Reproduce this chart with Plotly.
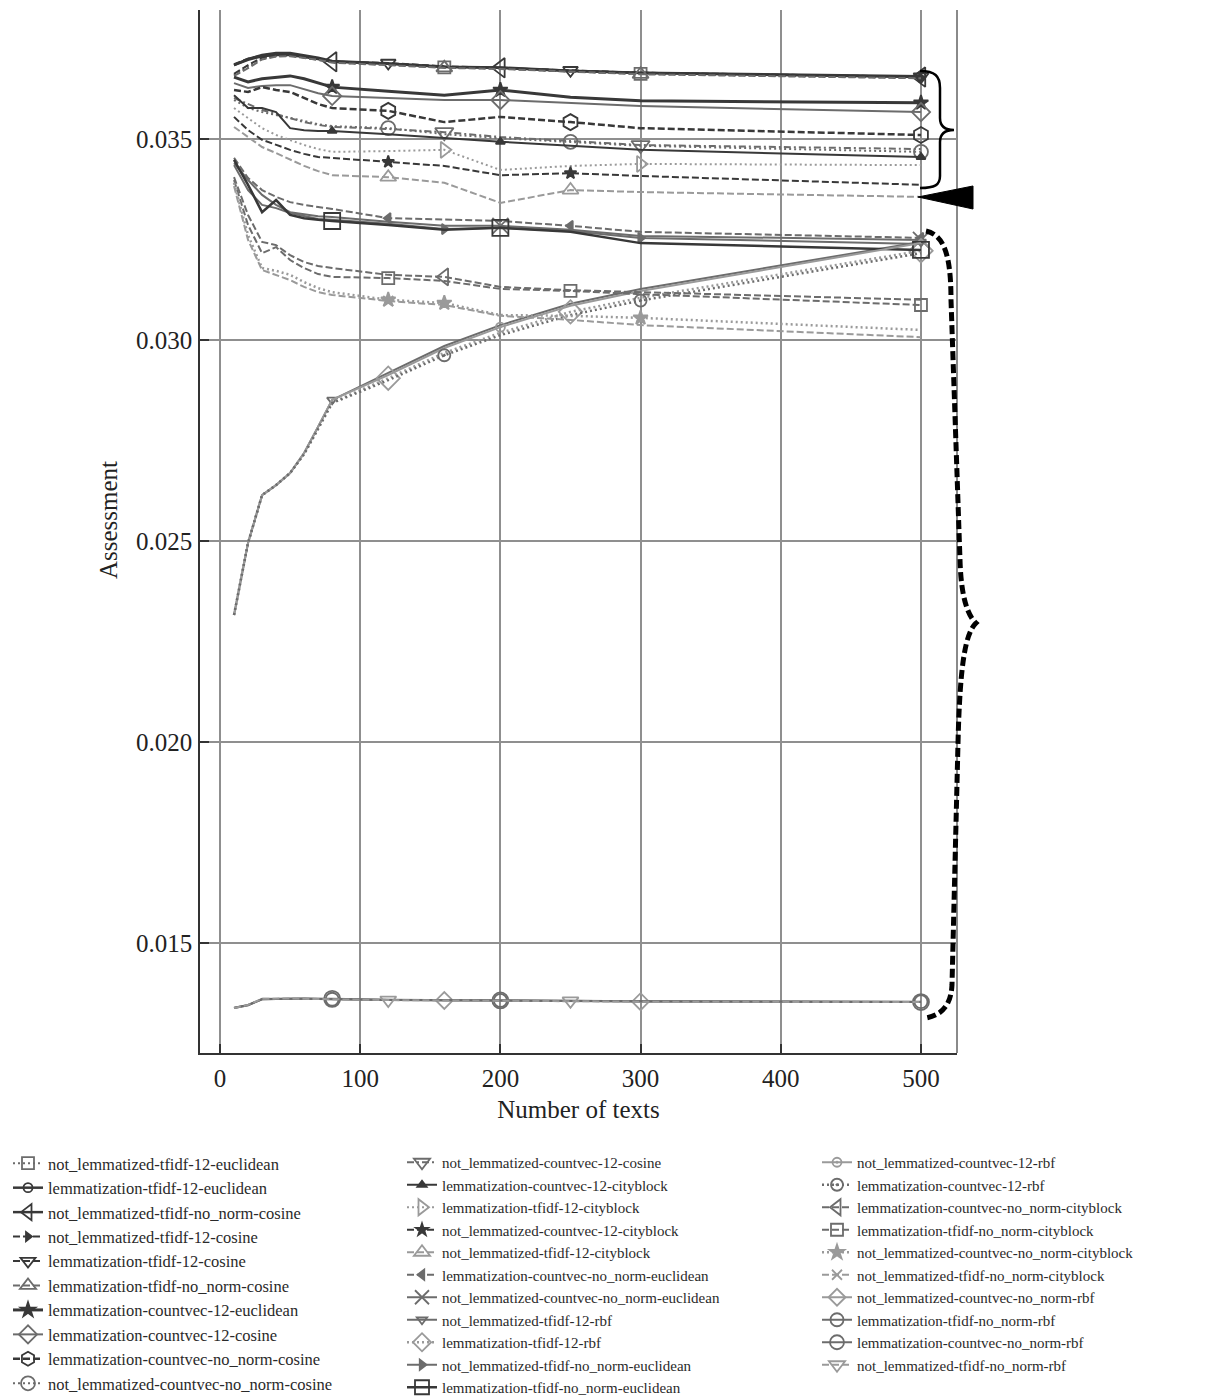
import plotly.graph_objects as go

# ---------------- data ----------------
X_TEXTS = [10, 20, 30, 40, 50, 60, 70, 80, 120, 160, 200, 250, 300, 500]
X_TICKS = [0, 100, 200, 300, 400, 500]
Y_TICKS = [0.015, 0.020, 0.025, 0.030, 0.035]

# column 1 of legend
nl_tfidf_l2_euclidean = [0.03659, 0.03680, 0.03700, 0.03706, 0.03707, 0.03703, 0.03698, 0.03690, 0.03685, 0.03678, 0.03675, 0.03668, 0.03662, 0.03652]
lm_tfidf_l2_euclidean = [0.03684, 0.03699, 0.03709, 0.03714, 0.03714, 0.03708, 0.03702, 0.03694, 0.03688, 0.03680, 0.03678, 0.03670, 0.03665, 0.03656]
nl_tfidf_nonorm_cosine = [0.03684, 0.03697, 0.03706, 0.03709, 0.03709, 0.03704, 0.03699, 0.03692, 0.03687, 0.03679, 0.03677, 0.03669, 0.03664, 0.03654]
nl_tfidf_l2_cosine = [0.03662, 0.03684, 0.03702, 0.03707, 0.03708, 0.03703, 0.03697, 0.03691, 0.03686, 0.03678, 0.03676, 0.03668, 0.03663, 0.03653]
lm_tfidf_l2_cosine = [0.03686, 0.03700, 0.03708, 0.03712, 0.03711, 0.03706, 0.03700, 0.03693, 0.03689, 0.03681, 0.03677, 0.03671, 0.03665, 0.03655]
lm_tfidf_nonorm_cosine = [0.03657, 0.03676, 0.03698, 0.03705, 0.03706, 0.03702, 0.03697, 0.03690, 0.03684, 0.03677, 0.03674, 0.03667, 0.03661, 0.03651]
lm_countvec_l2_euclidean = [0.03654, 0.03642, 0.03650, 0.03654, 0.03657, 0.03650, 0.03639, 0.03629, 0.03619, 0.03609, 0.03622, 0.03604, 0.03595, 0.03590]
lm_countvec_l2_cosine = [0.03639, 0.03627, 0.03632, 0.03634, 0.03634, 0.03624, 0.03614, 0.03607, 0.03602, 0.03597, 0.03597, 0.03590, 0.03582, 0.03567]
lm_countvec_nonorm_cosine = [0.03622, 0.03617, 0.03629, 0.03622, 0.03617, 0.03602, 0.03587, 0.03577, 0.03570, 0.03542, 0.03555, 0.03542, 0.03527, 0.03510]
nl_countvec_nonorm_cosine = [0.03597, 0.03577, 0.03567, 0.03560, 0.03552, 0.03545, 0.03537, 0.03532, 0.03527, 0.03512, 0.03502, 0.03493, 0.03483, 0.03468]
# column 2 of legend
nl_countvec_l2_cosine = [0.03602, 0.03587, 0.03572, 0.03562, 0.03552, 0.03542, 0.03535, 0.03530, 0.03525, 0.03517, 0.03505, 0.03495, 0.03485, 0.03475]
lm_countvec_l2_cityblock = [0.03609, 0.03577, 0.03577, 0.03567, 0.03527, 0.03522, 0.03520, 0.03520, 0.03512, 0.03502, 0.03493, 0.03483, 0.03473, 0.03455]
lm_tfidf_l2_cityblock = [0.03577, 0.03552, 0.03527, 0.03510, 0.03498, 0.03485, 0.03475, 0.03468, 0.03470, 0.03473, 0.03423, 0.03433, 0.03438, 0.03435]
nl_countvec_l2_cityblock = [0.03555, 0.03522, 0.03498, 0.03485, 0.03473, 0.03463, 0.03455, 0.03453, 0.03443, 0.03433, 0.03410, 0.03415, 0.03408, 0.03386]
nl_tfidf_l2_cityblock = [0.03530, 0.03505, 0.03480, 0.03465, 0.03448, 0.03433, 0.03420, 0.03410, 0.03405, 0.03391, 0.03341, 0.03373, 0.03368, 0.03356]
lm_countvec_nonorm_euclidean = [0.03453, 0.03403, 0.03373, 0.03356, 0.03343, 0.03336, 0.03331, 0.03326, 0.03303, 0.03299, 0.03296, 0.03284, 0.03269, 0.03254]
nl_countvec_nonorm_euclidean = [0.03440, 0.03398, 0.03361, 0.03336, 0.03318, 0.03313, 0.03308, 0.03306, 0.03294, 0.03284, 0.03284, 0.03274, 0.03259, 0.03249]
nl_tfidf_l2_rbf = [0.02316, 0.02495, 0.02614, 0.02639, 0.02669, 0.02719, 0.02784, 0.02851, 0.02918, 0.02985, 0.03037, 0.03090, 0.03127, 0.03244]
lm_tfidf_l2_rbf = [0.02316, 0.02495, 0.02614, 0.02639, 0.02669, 0.02717, 0.02781, 0.02845, 0.02905, 0.02968, 0.03018, 0.03070, 0.03105, 0.03222]
nl_tfidf_nonorm_euclidean = [0.03435, 0.03373, 0.03336, 0.03328, 0.03316, 0.03308, 0.03301, 0.03299, 0.03289, 0.03276, 0.03279, 0.03271, 0.03254, 0.03239]
lm_tfidf_nonorm_euclidean = [0.03448, 0.03386, 0.03318, 0.03348, 0.03311, 0.03303, 0.03299, 0.03296, 0.03286, 0.03274, 0.03279, 0.03269, 0.03241, 0.03224]
# column 3 of legend
nl_countvec_l2_rbf = [0.02316, 0.02495, 0.02614, 0.02639, 0.02669, 0.02719, 0.02784, 0.02851, 0.02913, 0.02980, 0.03032, 0.03085, 0.03122, 0.03241]
lm_countvec_l2_rbf = [0.02316, 0.02495, 0.02614, 0.02639, 0.02669, 0.02716, 0.02779, 0.02843, 0.02900, 0.02962, 0.03012, 0.03062, 0.03098, 0.03216]
lm_countvec_nonorm_cityblock = [0.03405, 0.03311, 0.03244, 0.03236, 0.03211, 0.03194, 0.03184, 0.03179, 0.03162, 0.03157, 0.03132, 0.03124, 0.03119, 0.03100]
lm_tfidf_nonorm_cityblock = [0.03398, 0.03286, 0.03216, 0.03231, 0.03199, 0.03179, 0.03164, 0.03157, 0.03154, 0.03147, 0.03127, 0.03122, 0.03114, 0.03087]
nl_countvec_nonorm_cityblock = [0.03391, 0.03261, 0.03179, 0.03172, 0.03162, 0.03144, 0.03129, 0.03119, 0.03100, 0.03092, 0.03062, 0.03060, 0.03055, 0.03025]
nl_tfidf_nonorm_cityblock = [0.03383, 0.03249, 0.03174, 0.03162, 0.03149, 0.03132, 0.03119, 0.03112, 0.03097, 0.03087, 0.03060, 0.03050, 0.03037, 0.03007]
nl_countvec_nonorm_rbf = [0.01338, 0.01345, 0.01361, 0.01361, 0.01362, 0.01361, 0.01361, 0.01360, 0.01358, 0.01357, 0.01357, 0.01356, 0.01354, 0.01353]
lm_tfidf_nonorm_rbf = [0.01339, 0.01346, 0.01360, 0.01361, 0.01361, 0.01361, 0.01360, 0.01360, 0.01358, 0.01358, 0.01357, 0.01356, 0.01355, 0.01354]
lm_countvec_nonorm_rbf = [0.01338, 0.01345, 0.01360, 0.01361, 0.01362, 0.01362, 0.01361, 0.01361, 0.01359, 0.01358, 0.01357, 0.01356, 0.01355, 0.01353]
nl_tfidf_nonorm_rbf = [0.01338, 0.01346, 0.01361, 0.01362, 0.01362, 0.01361, 0.01361, 0.01360, 0.01358, 0.01357, 0.01357, 0.01356, 0.01354, 0.01353]

SERIES = [
    ("not_lemmatized-tfidf-12-euclidean", nl_tfidf_l2_euclidean, "legend"),
    ("lemmatization-tfidf-12-euclidean", lm_tfidf_l2_euclidean, "legend"),
    ("not_lemmatized-tfidf-no_norm-cosine", nl_tfidf_nonorm_cosine, "legend"),
    ("not_lemmatized-tfidf-12-cosine", nl_tfidf_l2_cosine, "legend"),
    ("lemmatization-tfidf-12-cosine", lm_tfidf_l2_cosine, "legend"),
    ("lemmatization-tfidf-no_norm-cosine", lm_tfidf_nonorm_cosine, "legend"),
    ("lemmatization-countvec-12-euclidean", lm_countvec_l2_euclidean, "legend"),
    ("lemmatization-countvec-12-cosine", lm_countvec_l2_cosine, "legend"),
    ("lemmatization-countvec-no_norm-cosine", lm_countvec_nonorm_cosine, "legend"),
    ("not_lemmatized-countvec-no_norm-cosine", nl_countvec_nonorm_cosine, "legend"),
    ("not_lemmatized-countvec-12-cosine", nl_countvec_l2_cosine, "legend2"),
    ("lemmatization-countvec-12-cityblock", lm_countvec_l2_cityblock, "legend2"),
    ("lemmatization-tfidf-12-cityblock", lm_tfidf_l2_cityblock, "legend2"),
    ("not_lemmatized-countvec-12-cityblock", nl_countvec_l2_cityblock, "legend2"),
    ("not_lemmatized-tfidf-12-cityblock", nl_tfidf_l2_cityblock, "legend2"),
    ("lemmatization-countvec-no_norm-euclidean", lm_countvec_nonorm_euclidean, "legend2"),
    ("not_lemmatized-countvec-no_norm-euclidean", nl_countvec_nonorm_euclidean, "legend2"),
    ("not_lemmatized-tfidf-12-rbf", nl_tfidf_l2_rbf, "legend2"),
    ("lemmatization-tfidf-12-rbf", lm_tfidf_l2_rbf, "legend2"),
    ("not_lemmatized-tfidf-no_norm-euclidean", nl_tfidf_nonorm_euclidean, "legend2"),
    ("lemmatization-tfidf-no_norm-euclidean", lm_tfidf_nonorm_euclidean, "legend2"),
    ("not_lemmatized-countvec-12-rbf", nl_countvec_l2_rbf, "legend3"),
    ("lemmatization-countvec-12-rbf", lm_countvec_l2_rbf, "legend3"),
    ("lemmatization-countvec-no_norm-cityblock", lm_countvec_nonorm_cityblock, "legend3"),
    ("lemmatization-tfidf-no_norm-cityblock", lm_tfidf_nonorm_cityblock, "legend3"),
    ("not_lemmatized-countvec-no_norm-cityblock", nl_countvec_nonorm_cityblock, "legend3"),
    ("not_lemmatized-tfidf-no_norm-cityblock", nl_tfidf_nonorm_cityblock, "legend3"),
    ("not_lemmatized-countvec-no_norm-rbf", nl_countvec_nonorm_rbf, "legend3"),
    ("lemmatization-tfidf-no_norm-rbf", lm_tfidf_nonorm_rbf, "legend3"),
    ("lemmatization-countvec-no_norm-rbf", lm_countvec_nonorm_rbf, "legend3"),
    ("not_lemmatized-tfidf-no_norm-rbf", nl_tfidf_nonorm_rbf, "legend3"),
]

# ---------------- styles ----------------
DARK, MID, LIGHT = "#383838", "#6c6c6c", "#9a9a9a"
SOLID, DOT, DASH, DASHDOT = "solid", "2px,3px", "7px,3px", "7px,3px,2px,3px"

# color, dash, width, symbol, size, marker point indices
STYLE = {
    "not_lemmatized-tfidf-12-euclidean": (MID, DOT, 2, "square-open", 12, [9, 12]),
    "lemmatization-tfidf-12-euclidean": (DARK, SOLID, 2.5, "circle-open", 9, [13]),
    "not_lemmatized-tfidf-no_norm-cosine": (DARK, SOLID, 2.5, "triangle-left-open", 17, [7, 10, 13]),
    "not_lemmatized-tfidf-12-cosine": (DARK, DASH, 2, "triangle-right", 8, [13]),
    "lemmatization-tfidf-12-cosine": (DARK, DASH, 2, "triangle-down-open", 13, [8, 11, 13]),
    "lemmatization-tfidf-no_norm-cosine": (MID, DASH, 2, "triangle-up-open", 14, [9, 12]),
    "lemmatization-countvec-12-euclidean": (DARK, SOLID, 3, "star", 11, [7, 10, 13]),
    "lemmatization-countvec-12-cosine": (MID, SOLID, 2, "diamond-open", 14, [7, 10, 13]),
    "lemmatization-countvec-no_norm-cosine": (DARK, DASH, 2.5, "hexagon-open", 16, [8, 11, 13]),
    "not_lemmatized-countvec-no_norm-cosine": (MID, DOT, 2, "circle-open", 14, [8, 11, 13]),
    "not_lemmatized-countvec-12-cosine": (MID, DASHDOT, 2, "triangle-down-open", 16, [9, 12]),
    "lemmatization-countvec-12-cityblock": (DARK, SOLID, 2, "triangle-up", 8, [7, 10, 13]),
    "lemmatization-tfidf-12-cityblock": (LIGHT, DOT, 2, "triangle-right-open", 14, [9, 12]),
    "not_lemmatized-countvec-12-cityblock": (DARK, DASH, 2, "star", 9, [8, 11]),
    "not_lemmatized-tfidf-12-cityblock": (LIGHT, DASH, 2, "triangle-up-open", 14, [8, 11]),
    "lemmatization-countvec-no_norm-euclidean": (MID, DASH, 2, "triangle-left", 9, [8, 11, 13]),
    "not_lemmatized-countvec-no_norm-euclidean": (MID, SOLID, 2, "x-thin-open", 16, [10, 13]),
    "not_lemmatized-tfidf-12-rbf": (MID, SOLID, 2, "triangle-down-open", 9, [7, 13]),
    "lemmatization-tfidf-12-rbf": (LIGHT, DOT, 2.5, "diamond-open", 18, [8, 11, 13]),
    "not_lemmatized-tfidf-no_norm-euclidean": (MID, SOLID, 2, "triangle-right", 9, [9, 12]),
    "lemmatization-tfidf-no_norm-euclidean": (DARK, SOLID, 2.5, "square-open", 16, [7, 10, 13]),
    "not_lemmatized-countvec-12-rbf": (LIGHT, SOLID, 2, "circle-open-dot", 9, [10]),
    "lemmatization-countvec-12-rbf": (MID, DOT, 2.5, "circle-open-dot", 12, [9, 12]),
    "lemmatization-countvec-no_norm-cityblock": (MID, DASH, 2, "triangle-left-open", 15, [9]),
    "lemmatization-tfidf-no_norm-cityblock": (MID, DASH, 2, "square-open", 12, [8, 11, 13]),
    "not_lemmatized-countvec-no_norm-cityblock": (LIGHT, DOT, 2.5, "star", 11, [8, 9, 12]),
    "not_lemmatized-tfidf-no_norm-cityblock": (LIGHT, DASH, 2, "x-thin-open", 10, [8]),
    "not_lemmatized-countvec-no_norm-rbf": (LIGHT, SOLID, 2, "diamond-open", 13, [9, 12]),
    "lemmatization-tfidf-no_norm-rbf": (MID, SOLID, 2, "circle-open", 13, [7, 10, 13]),
    "lemmatization-countvec-no_norm-rbf": (MID, SOLID, 2, "circle-open", 16, [7, 10, 13]),
    "not_lemmatized-tfidf-no_norm-rbf": (LIGHT, DASH, 2, "triangle-down-open", 14, [8, 11]),
}

fig = go.Figure()
for name, ys, leg in SERIES:
    color, dash, width, symbol, size, idx = STYLE[name]
    fig.add_trace(go.Scatter(
        x=X_TEXTS, y=ys, mode="lines", showlegend=False, hoverinfo="skip",
        line=dict(color=color, dash=dash, width=width)))
    fig.add_trace(go.Scatter(
        x=[X_TEXTS[i] for i in idx], y=[ys[i] for i in idx], mode="markers",
        showlegend=False, hoverinfo="skip",
        marker=dict(symbol=symbol, size=size, color=color,
                    line=dict(color=color, width=1.8))))
    fig.add_trace(go.Scatter(
        x=[None], y=[None], mode="lines+markers", name=name, legend=leg,
        legendgroup=name, showlegend=True,
        line=dict(color=color, dash=dash, width=width),
        marker=dict(symbol=symbol, size=min(size, 14), color=color,
                    line=dict(color=color, width=1.8))))

# ---------------- decorations (braces / arrow), pixel placement ----------------
PLOT_L, PLOT_R, PLOT_T, PLOT_B = 200, 957, 10, 1053


def P(px, py):
    return f"{(px - PLOT_L) / (PLOT_R - PLOT_L):.5f},{(PLOT_B - py) / (PLOT_B - PLOT_T):.5f}"


solid_brace = (f"M{P(920,71)} C{P(935,71)} {P(940,76)} {P(940,88)} L{P(940,118)} "
               f"C{P(940,126)} {P(945,130)} {P(954,130)} C{P(945,130)} {P(940,134)} {P(940,142)} "
               f"L{P(940,176)} C{P(940,185)} {P(935,188)} {P(920,188)}")
arrow = f"M{P(918,197)} L{P(973,186)} L{P(973,209)} Z"
dashed_brace = (f"M{P(926,231)} C{P(944,235)} {P(951,255)} {P(951,300)} L{P(960,560)} "
                f"C{P(961,595)} {P(967,615)} {P(976,623)} C{P(966,633)} {P(960,660)} {P(958,743)} "
                f"L{P(952,985)} C{P(951,1005)} {P(942,1015)} {P(926,1018)}")

shapes = [
    dict(type="line", xref="paper", yref="paper", x0=1, x1=1, y0=0, y1=1,
         line=dict(color="#8a8a8a", width=2), layer="below"),
    dict(type="path", xref="paper", yref="paper", path=solid_brace,
         line=dict(color="black", width=2.5), layer="above"),
    dict(type="path", xref="paper", yref="paper", path=arrow,
         fillcolor="black", line=dict(color="black", width=1), layer="above"),
    dict(type="path", xref="paper", yref="paper", path=dashed_brace,
         line=dict(color="black", width=5, dash="9px,4px"), layer="above"),
]

FONT = "Liberation Serif"


def legend_cfg(x_px, size, gap):
    return dict(xref="container", yref="container", xanchor="left", yanchor="top",
                x=x_px / 1226, y=1 - 1146 / 1400,
                font=dict(family=FONT, size=size, color="#2a2a2a"),
                bgcolor="rgba(0,0,0,0)", itemwidth=30, traceorder="grouped",
                tracegroupgap=gap)


fig.update_layout(
    width=1226, height=1400,
    margin=dict(l=PLOT_L, r=1226 - PLOT_R, t=PLOT_T, b=1400 - PLOT_B, autoexpand=False),
    paper_bgcolor="white", plot_bgcolor="white",
    font=dict(family=FONT, color="#222"),
    shapes=shapes,
    annotations=[dict(text="Assessment", xref="paper", yref="paper",
                      x=(108 - PLOT_L) / (PLOT_R - PLOT_L), y=(PLOT_B - 520) / (PLOT_B - PLOT_T),
                      xanchor="center", yanchor="middle", textangle=-90, showarrow=False,
                      font=dict(family=FONT, size=25, color="#222"))],
    xaxis=dict(range=[-14.27, 525.7], tickvals=X_TICKS, showgrid=True,
               gridcolor="#8f8f8f", gridwidth=1.6, zeroline=False,
               showline=True, linecolor="#333", linewidth=1.5,
               ticks="inside", ticklen=9, tickcolor="#333", tickwidth=1.5,
               ticklabelstandoff=2, automargin=False,
               tickfont=dict(family=FONT, size=25, color="#222"),
               title=dict(text="Number of texts", font=dict(family=FONT, size=25, color="#222"),
                          standoff=10)),
    yaxis=dict(range=[0.012263, 0.038209], tickvals=Y_TICKS, tickformat=".3f",
               showgrid=True, gridcolor="#8f8f8f", gridwidth=1.6, zeroline=False,
               showline=True, linecolor="#333", linewidth=1.5,
               ticks="inside", ticklen=9, tickcolor="#333", tickwidth=1.5,
               ticklabelstandoff=1, automargin=False,
               tickfont=dict(family=FONT, size=25, color="#222")),
    legend=legend_cfg(8, 16.5, 0),
    legend2=legend_cfg(402, 15, 0),
    legend3=legend_cfg(817, 15, 0),
)

fig.write_html("out.html")
